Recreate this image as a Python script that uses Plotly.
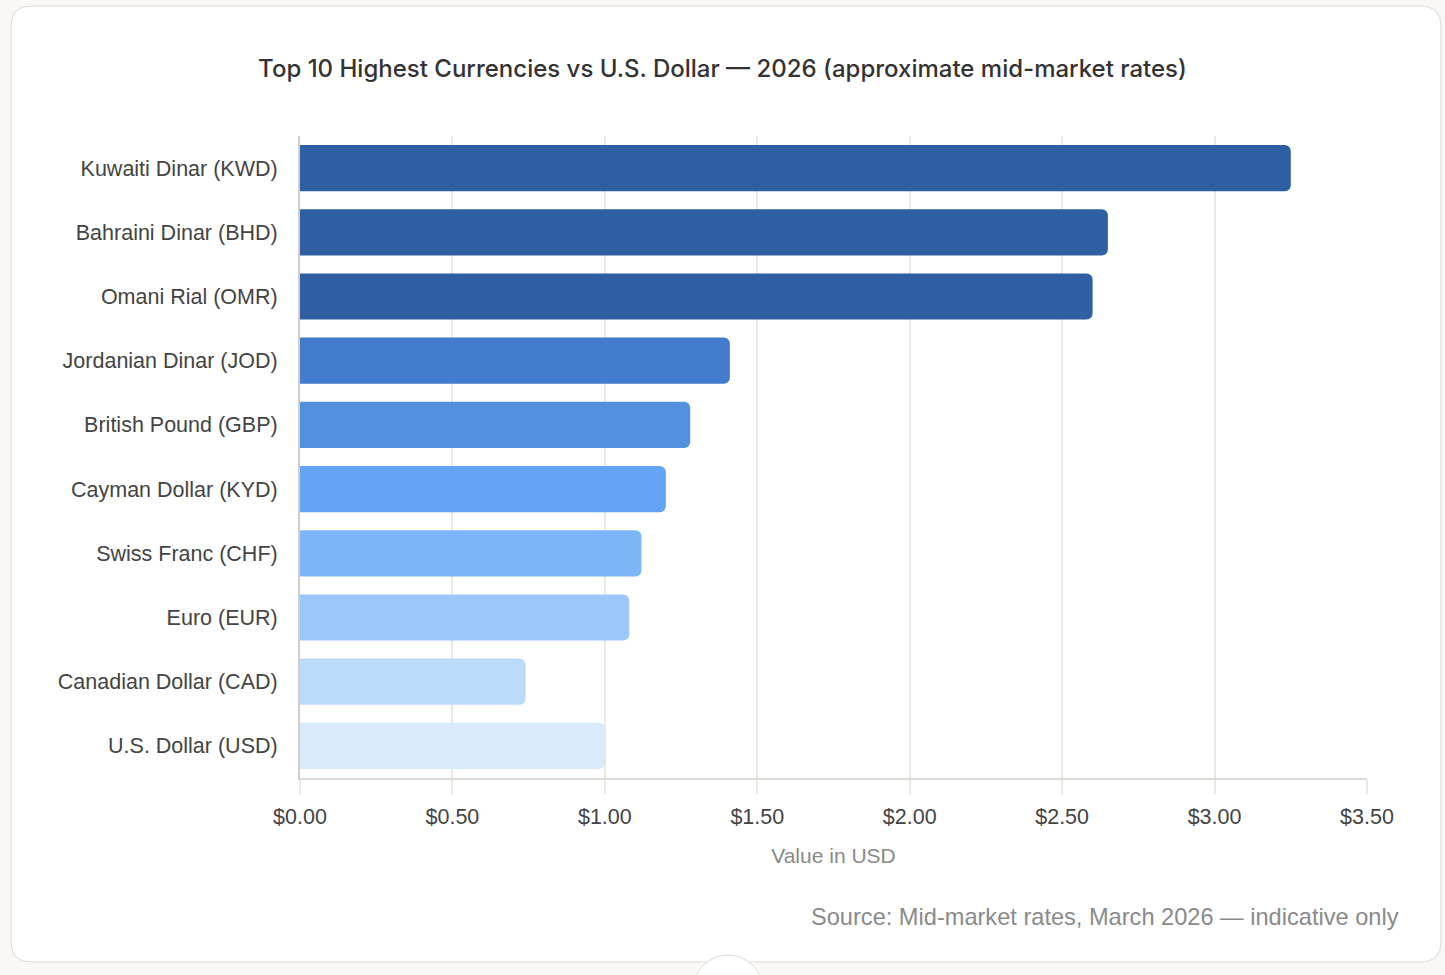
import plotly.graph_objects as go

currencies = [
    "Kuwaiti Dinar (KWD)", "Bahraini Dinar (BHD)", "Omani Rial (OMR)",
    "Jordanian Dinar (JOD)", "British Pound (GBP)", "Cayman Dollar (KYD)",
    "Swiss Franc (CHF)", "Euro (EUR)", "Canadian Dollar (CAD)", "U.S. Dollar (USD)",
]
usd_values = [3.25, 2.65, 2.60, 1.41, 1.28, 1.20, 1.12, 1.08, 0.74, 1.00]
bar_colors = [
    "#2f5fa3", "#2f5fa3", "#2f5fa3", "#437bcd", "#5290e0",
    "#63a4f6", "#7db6f8", "#9bc8f8", "#bbdbfb", "#d8eafc",
]
x_ticks = [0, 0.5, 1.0, 1.5, 2.0, 2.5, 3.0, 3.5]

W, H = 1445, 975
L, R, T, B = 300, 78, 136, 197
pw, ph = W - L - R, H - T - B


def px(x):
    return (x - L) / pw


def py(y):
    return (H - B - y) / ph


fig = go.Figure()
fig.add_trace(go.Bar(
    x=usd_values,
    y=currencies,
    orientation="h",
    marker=dict(color=bar_colors, line=dict(width=0)),
    hovertemplate="%{y}: $%{x:.2f}<extra></extra>",
))

# card background with rounded corners
cx0, cy0, cx1, cy1, r = 11, 6, 1441, 962, 20
rx, ry = r / pw, r / ph
x0, x1, y0, y1 = px(cx0), px(cx1), py(cy1), py(cy0)
card = (f"M {x0+rx},{y1} L {x1-rx},{y1} Q {x1},{y1} {x1},{y1-ry} "
        f"L {x1},{y0+ry} Q {x1},{y0} {x1-rx},{y0} L {x0+rx},{y0} "
        f"Q {x0},{y0} {x0},{y0+ry} L {x0},{y1-ry} Q {x0},{y1} {x0+rx},{y1} Z")
fig.add_shape(type="path", path=card, xref="paper", yref="paper",
              fillcolor="white", line=dict(color="#dedbd3", width=1), layer="below")
# small round button peeking at the bottom
fig.add_shape(type="circle", xref="paper", yref="paper",
              x0=px(693), x1=px(763), y0=py(1025), y1=py(955),
              fillcolor="white", line=dict(color="#dedbd3", width=1), layer="below")

fig.add_annotation(
    text="Source: Mid-market rates, March 2026 \u2014 indicative only",
    xref="paper", yref="paper", x=px(1401), y=py(917),
    xanchor="right", yanchor="middle", showarrow=False,
    font=dict(size=23.6, color="#8a8a8a", family="Liberation Sans, Arial, sans-serif"),
)

fig.update_layout(
    width=W, height=H,
    margin=dict(l=L, r=R, t=T, b=B),
    paper_bgcolor="#f9f8f4",
    plot_bgcolor="white",
    bargap=0.28,
    barcornerradius=6,
    showlegend=False,
    font=dict(family="Liberation Sans, Arial, sans-serif", color="#444444"),
    title=dict(
        text="Top 10 Highest Currencies vs U.S. Dollar \u2014 2026 (approximate mid-market rates)",
        x=0.5, xref="container", xanchor="center",
        y=1 - 69 / H, yanchor="middle",
        font=dict(size=24, color="#333333", family="Inter, Liberation Sans, sans-serif", weight=500),
    ),
    xaxis=dict(
        range=[0, 3.5],
        tickvals=x_ticks,
        tickformat="$.2f",
        showgrid=True, gridcolor="#ebe9e4", gridwidth=1.5,
        ticks="outside", ticklen=14, tickcolor="#ebe9e4", tickwidth=1.5,
        ticklabelstandoff=4,
        showline=True, linecolor="#dcdad5", linewidth=1.5,
        zeroline=False,
        tickfont=dict(size=21.5, color="#444444"),
        title=dict(text="Value in USD", standoff=21,
                   font=dict(size=21, color="#8a8a8a")),
        fixedrange=True,
    ),
    yaxis=dict(
        categoryorder="array", categoryarray=currencies,
        autorange="reversed",
        showline=True, linecolor="#d0cec9", linewidth=2,
        showgrid=False, zeroline=False,
        ticks="outside", ticklen=16, tickcolor="rgba(0,0,0,0)",
        tickfont=dict(size=21.5, color="#444444"),
        fixedrange=True,
    ),
)

fig.write_html("out.html", config={"displayModeBar": False},
               post_script="document.body.style.margin='0';")
